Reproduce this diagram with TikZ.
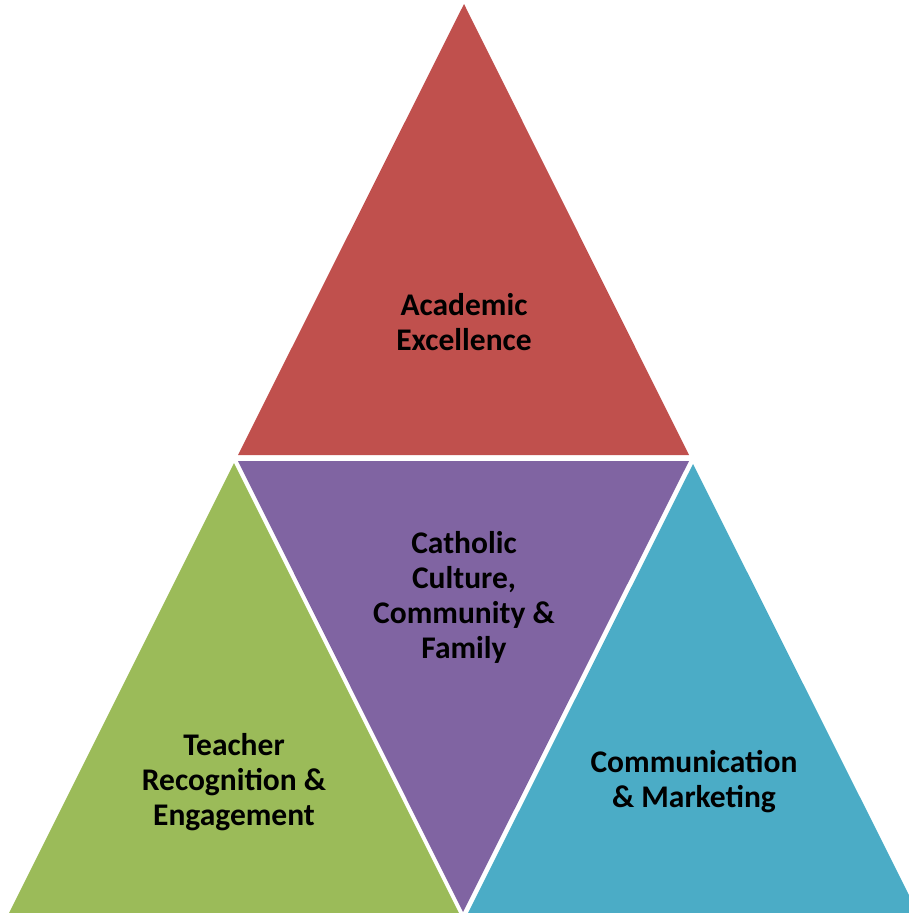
\documentclass[tikz,border=0pt]{standalone}
\usepackage{fontspec}
\setmainfont{Carlito}
\usetikzlibrary{positioning}

\definecolor{acred}{HTML}{C0504D}
\definecolor{acpurple}{HTML}{8064A2}
\definecolor{acgreen}{HTML}{9BBB59}
\definecolor{acblue}{HTML}{4BACC6}

\begin{document}
\begin{tikzpicture}
                    [x=1pt,y=-1pt,label/.style={align=center,font=\fontsize{31.5}{35}\selectfont\bfseries,text=black}]

                \useasboundingbox (0,0) rectangle (909,913);
                \clip (0,0) rectangle (909,913);

                % four triangles
                \fill[acred] (464,4) -- (689,455) -- (238,455) -- cycle;
                \fill[acpurple] (238,461) -- (689,461) -- (463,912) -- cycle;
                \fill[acgreen] (234,463) -- (459,913) -- (9,913) -- cycle;
                \fill[acblue] (693,464) -- (918,913) -- (468,913) -- cycle;

                    \node[label] (academic) at (464,322) {Academic\\Excellence};
                    \node[label] (catholic) at (464,597) {Catholic\\Culture,\\Community \&\\Family};
                    \node[label] (teacher) at (234,782) {Teacher\\Recognition \&\\Engagement};
                    \node[label] (comm) at (694,782) {Communication\\\& Marketing};

                \end{tikzpicture}
\end{document}
